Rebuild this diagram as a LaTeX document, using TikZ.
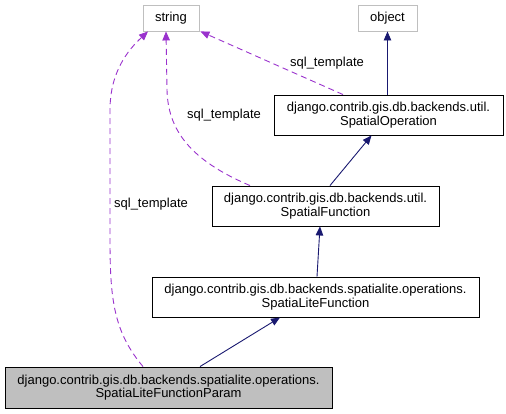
\documentclass[tikz,border=0pt]{standalone}
\usepackage{fontspec}
\setmainfont{Liberation Sans}
\usetikzlibrary{calc,arrows.meta}
\definecolor{colorINH}{HTML}{191970}
\definecolor{colorUSE}{HTML}{9A32CD}
\definecolor{colorEXT}{HTML}{BFBFBF}
\tikzset{
   every path/.style={>={Triangle[length=9pt,width=7.5pt]}},
   cls/.style={rectangle,draw=black,line width=0.9pt,align=center,inner sep=0pt,font=\fontsize{13}{13.6}\selectfont},
   ext/.style={cls,draw=colorEXT},
   cur/.style={cls,fill=colorEXT},
   inh/.style={->,color=colorINH,line width=0.9pt},
   use/.style={->,color=colorUSE,dash pattern=on 6pt off 4pt,line width=0.9pt},
   lbl/.style={font=\fontsize{13}{13.6}\selectfont,inner sep=0pt},
}
\begin{document}
\begin{tikzpicture}[x=1pt,y=-1pt]
      \useasboundingbox (0,0) rectangle (506,413);

      \node (str) [ext, minimum width=56pt, minimum height=26pt] at (171,18) {string};
      \node (obj) [ext, minimum width=59pt, minimum height=26pt] at (387.5,18) {object};

      \node (sop) [cls, minimum width=229pt, minimum height=40pt] at (388.5,115)
      {django.contrib.gis.db.backends.util.\\SpatialOperation};

      \node (sfn) [cls, minimum width=227pt, minimum height=40pt] at (325.5,206)
      {django.contrib.gis.db.backends.util.\\SpatialFunction};

      \node (slf) [cls, minimum width=327pt, minimum height=40pt] at (315.5,297)
      {django.contrib.gis.db.backends.spatialite.operations.\\SpatiaLiteFunction};

      \node (slfp) [cur, minimum width=327pt, minimum height=41pt] at (168.5,387.5)
      {django.contrib.gis.db.backends.spatialite.operations.\\SpatiaLiteFunctionParam};

      % inheritance
      \draw[inh] (obj.south |- sop.north) -- (obj.south);
      \draw[inh] ($ (sfn.north) + (4.5,0) $) -- ($ (sop.south) + (-17,0) $);
      \draw[inh] ($ (slf.north) + (1.5,0) $) -- ($ (sfn.south) + (-5.5,0) $);
      \draw[inh] ($ (slfp.north) + (31.5,0) $) -- ($ (slf.south) + (-35.5,0) $);

      % members
      \draw[use] ($ (sop.north) + (-45.5,0) $) -- ($ (str.south east) + (1,0) $);
      \node (l1) [lbl] at (327,63) {sql\_template};

      \draw[use] ($ (sfn.north) + (-75.5,0) $) .. controls (190,160) and (168,130) .. (167,90)
                 -- ($ (str.south) + (-5,0) $);
      \node (l2) [lbl] at (224,115) {sql\_template};

      \draw[use] ($ (slfp.north) + (-25.5,0) $) .. controls (114,332) and (110,300) .. (110,240)
                 -- (110,110) .. controls (110,72) and (128,50) .. ($ (str.south) + (-23,0) $);
      \node (l3) [lbl] at (151,204) {sql\_template};
\end{tikzpicture}
\end{document}
